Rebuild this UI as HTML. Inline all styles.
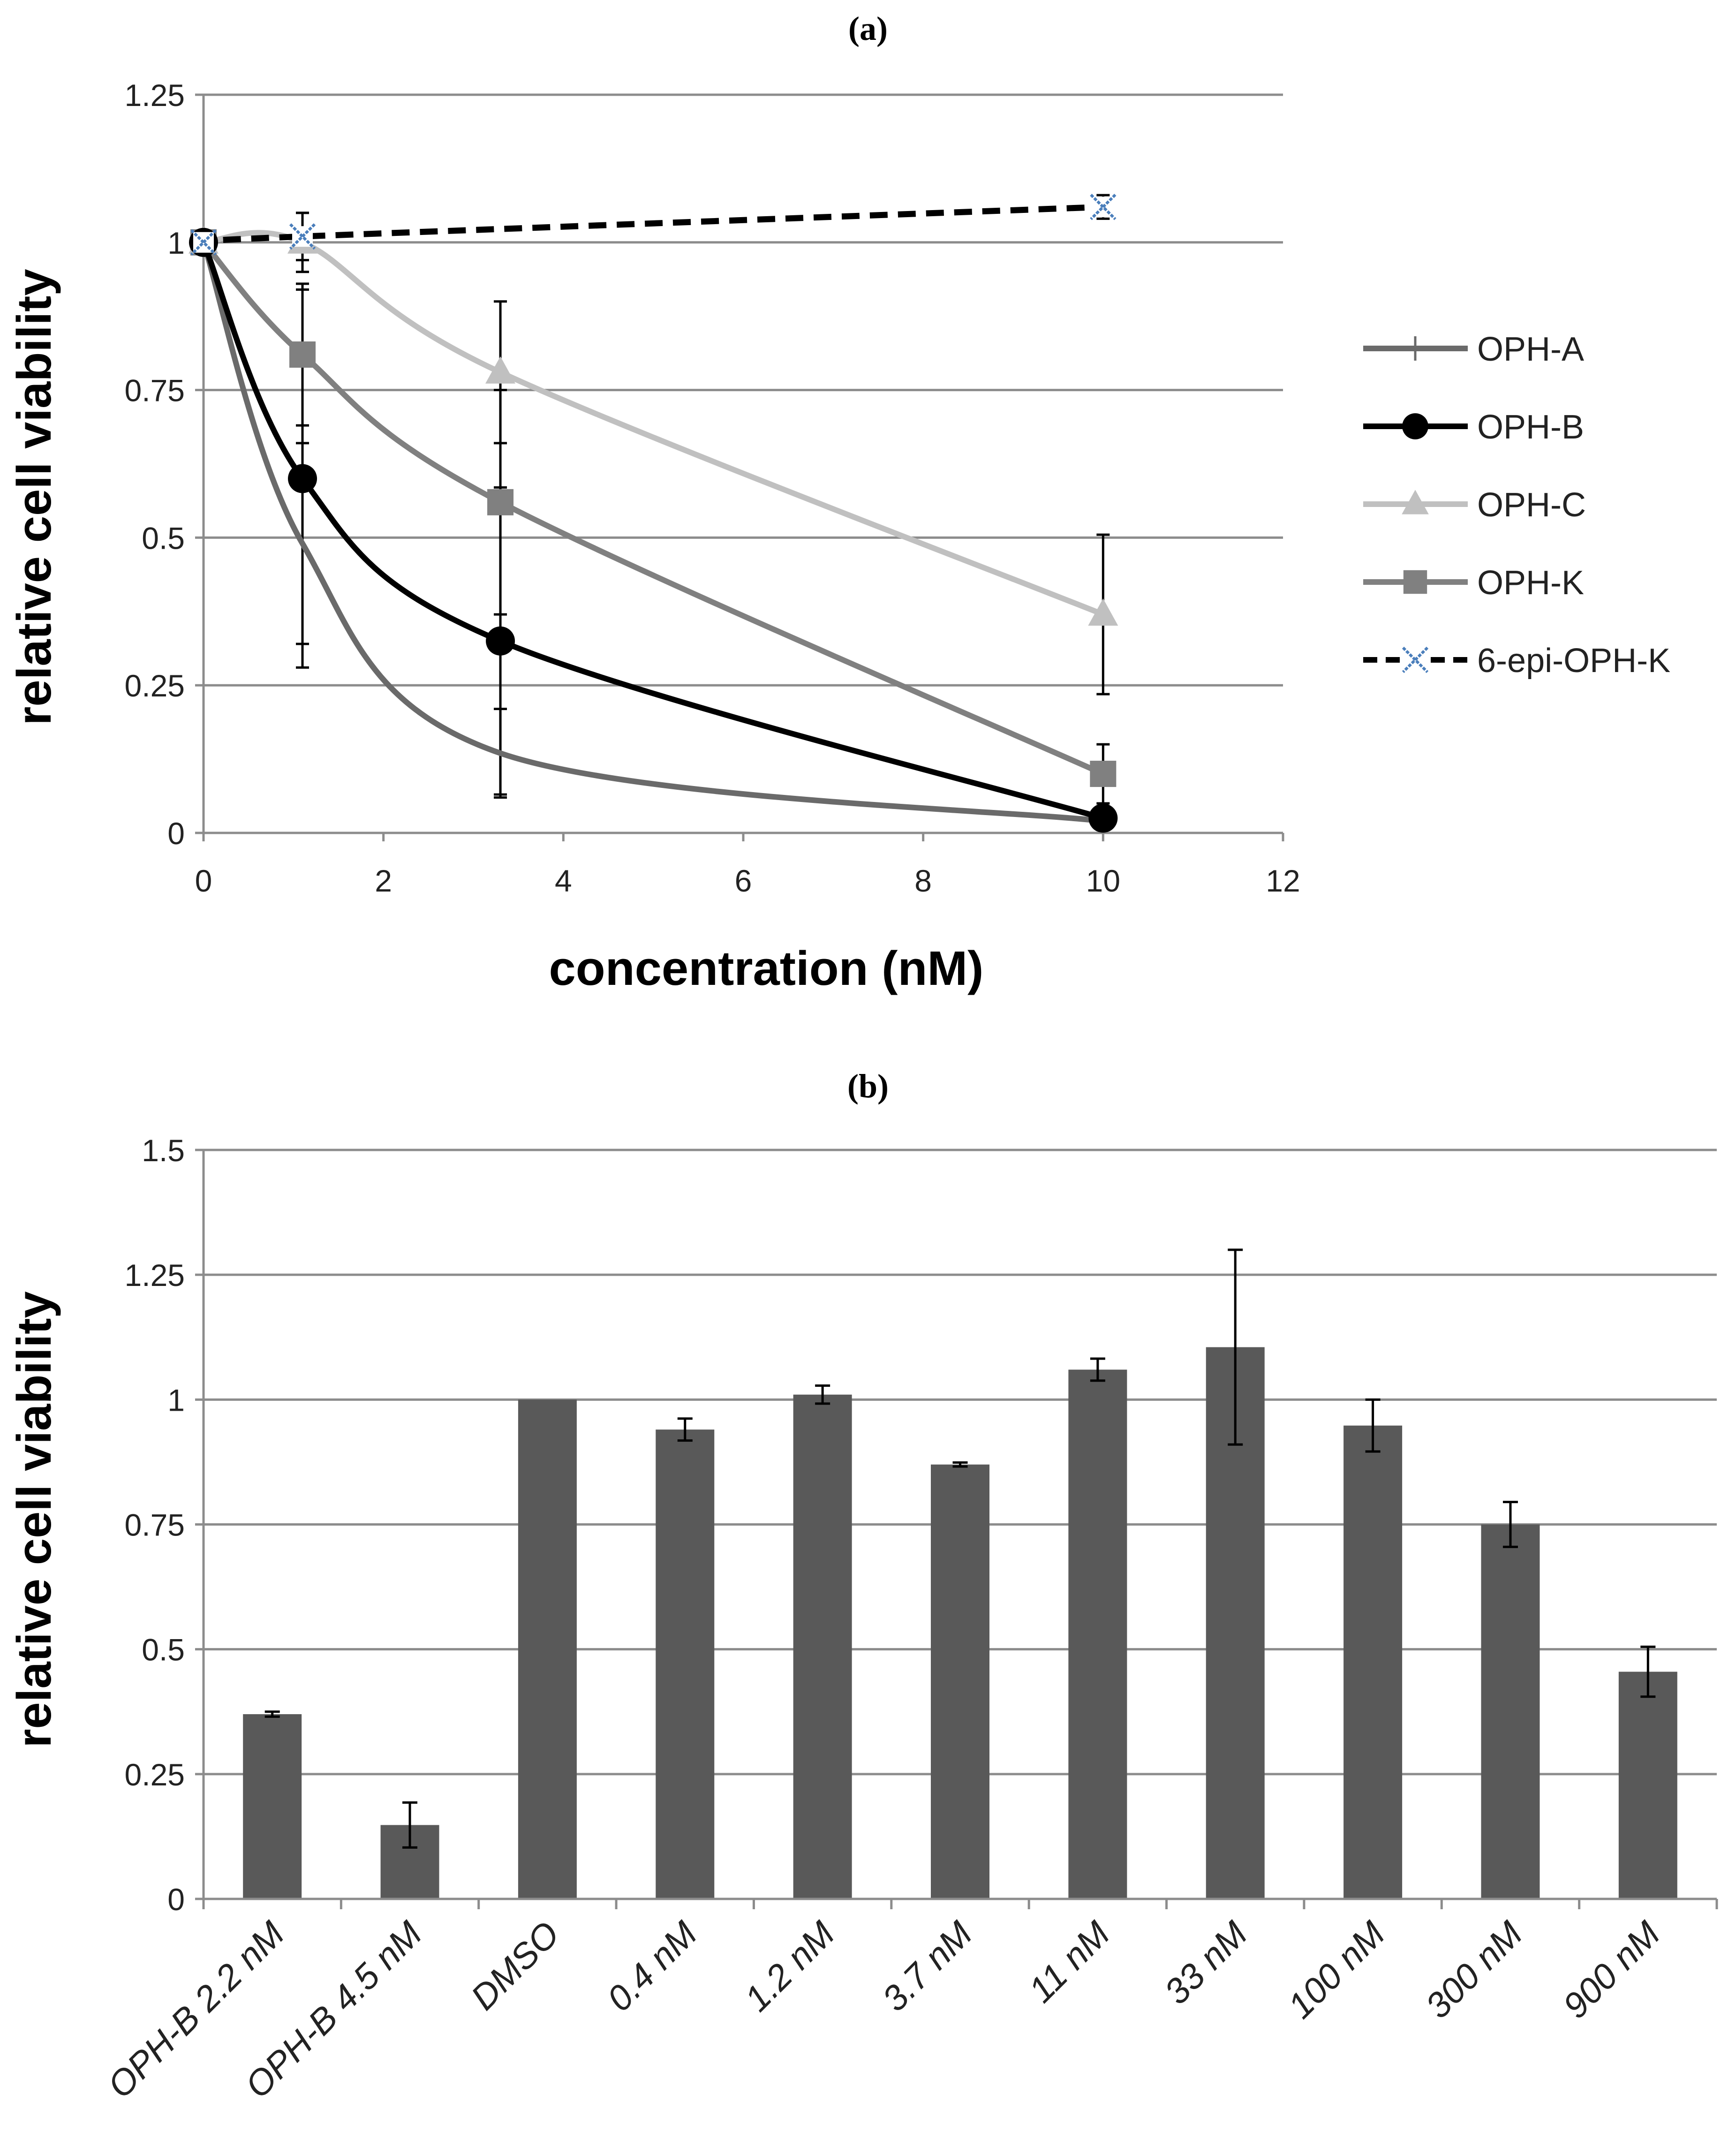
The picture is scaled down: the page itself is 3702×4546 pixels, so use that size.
<!DOCTYPE html>
<html><head><meta charset="utf-8"><style>
html,body{margin:0;padding:0;background:#fff}
svg{display:block}
text{font-family:"Liberation Sans",sans-serif}
text.serif{font-family:"Liberation Serif",serif}
</style></head><body>
<svg id="fig" xmlns="http://www.w3.org/2000/svg" width="3702" height="4546" viewBox="0 0 3702 4546">
<rect width="3702" height="4546" fill="#fff"/>
<g id="pa"></g>
<g id="pb"></g>
</svg>
<script>
// Panel A data
const aX = [0, 1.1, 3.3, 10];
const aA = [1, 0.49, 0.135, 0.02];
const aAerr = [0, 0.17, 0.075, 0.01];
const aB = [1, 0.6, 0.325, 0.025];
const aBerr = [0, 0.32, 0.26, 0.02];
const aC = [1, 1.0, 0.78, 0.37];
const aCerr = [0, 0.05, 0.12, 0.135];
const aK = [1, 0.81, 0.56, 0.1];
const aKerr = [0, 0.12, 0.19, 0.05];
const epiX = [0, 1.1, 10];
const epiY = [1, 1.01, 1.06];
const epiErr = [0, 0.04, 0.02];
const aXTicks = [0, 2, 4, 6, 8, 10, 12];
const aYTicks = [0, 0.25, 0.5, 0.75, 1, 1.25];
const aYLabels = ["0", "0.25", "0.5", "0.75", "1", "1.25"];
// Panel B data
const bCats = ["OPH-B 2.2 nM","OPH-B 4.5 nM","DMSO","0.4 nM","1.2 nM","3.7 nM","11 nM","33 nM","100 nM","300 nM","900 nM"];
const bVals = [0.37, 0.148, 1.0, 0.94, 1.01, 0.87, 1.06, 1.105, 0.948, 0.75, 0.455];
const bErr = [0.005, 0.045, 0, 0.022, 0.018, 0.004, 0.022, 0.195, 0.052, 0.045, 0.05];
const bYTicks = [0, 0.25, 0.5, 0.75, 1, 1.25, 1.5];
const bYLabels = ["0", "0.25", "0.5", "0.75", "1", "1.25", "1.5"];

const NS = "http://www.w3.org/2000/svg";
function mk(parent, tag, attrs, txt) {
  const e = document.createElementNS(NS, tag);
  for (const k in attrs) e.setAttribute(k, attrs[k]);
  if (txt !== undefined) e.textContent = txt;
  parent.appendChild(e);
  return e;
}
const pa = document.getElementById('pa');
const pb = document.getElementById('pb');

// ----- Panel A axes
const ax0 = 434, ax1 = 2736, ay0 = 1776, ay1 = 202;
const xA = v => ax0 + (v / 12) * (ax1 - ax0);
const yA = v => ay0 - (v / 1.25) * (ay0 - ay1);

let t = mk(pa, 'text', {class: 'serif', x: 1851, y: 85, 'font-size': 72, 'font-weight': 'bold', 'text-anchor': 'middle'}, '(a)');



aYTicks.forEach((v, i) => {
  const g = mk(pa, 'line', {x1: ax0 - 18, x2: ax1, y1: yA(v), y2: yA(v), stroke: '#8c8c8c', 'stroke-width': 5});
  
  
  const l = mk(pa, 'text', {x: ax0 - 40, y: yA(v) + 24, 'font-size': 66, 'text-anchor': 'end', fill: '#222'}, aYLabels[i]);
  
  
});
let ya = mk(pa, 'line', {x1: ax0, x2: ax0, y1: ay1, y2: ay0 + 18, stroke: '#8c8c8c', 'stroke-width': 5});


aXTicks.forEach(v => {
  const tk = mk(pa, 'line', {x1: xA(v), x2: xA(v), y1: ay0, y2: ay0 + 18, stroke: '#8c8c8c', 'stroke-width': 5});
  
  
  const l = mk(pa, 'text', {x: xA(v), y: ay0 + 125, 'font-size': 66, 'text-anchor': 'middle', fill: '#222'}, String(v));
  
  
});
t = mk(pa, 'text', {x: 1634, y: 2100, 'font-size': 103, 'font-weight': 'bold', 'text-anchor': 'middle'}, 'concentration (nM)');


t = mk(pa, 'text', {x: 0, y: 0, 'font-size': 103, 'font-weight': 'bold', 'text-anchor': 'middle', transform: 'translate(108,1060) rotate(-90)'}, 'relative cell viability');



function smooth(pts) {
  let d = `M${pts[0][0]},${pts[0][1]}`;
  for (let i = 0; i < pts.length - 1; i++) {
    const p0 = pts[i - 1] || pts[i], p1 = pts[i], p2 = pts[i + 1], p3 = pts[i + 2] || p2;
    const s = 6;
    const c1 = [p1[0] + (p2[0] - p0[0]) / s, p1[1] + (p2[1] - p0[1]) / s];
    const c2 = [p2[0] - (p3[0] - p1[0]) / s, p2[1] - (p3[1] - p1[1]) / s];
    d += ` C${c1[0]},${c1[1]} ${c2[0]},${c2[1]} ${p2[0]},${p2[1]}`;
  }
  return d;
}
function errBars(xs, ys, es, name) {
  xs.forEach((x, i) => {
    if (!es[i]) return;
    const X = xA(x), Y1 = yA(ys[i] + es[i]), Y2 = yA(ys[i] - es[i]);
    const e = mk(pa, 'path', {d: `M${X},${Y1}V${Y2}M${X-14},${Y1}H${X+14}M${X-14},${Y2}H${X+14}`, stroke: '#000', 'stroke-width': 5, fill: 'none'});
    
    
  });
}
const series = [
  {ys: aA, es: aAerr, col: '#6a6a6a', name: 'oph-a'},
  {ys: aK, es: aKerr, col: '#808080', name: 'oph-k'},
  {ys: aC, es: aCerr, col: '#c0c0c0', name: 'oph-c'},
  {ys: aB, es: aBerr, col: '#000000', name: 'oph-b'},
];
series.forEach(s => errBars(aX, s.ys, s.es, s.name + '-error-bar'));
errBars(epiX, epiY, epiErr, 'epi-oph-k-error-bar');
function marker(g, kind, X, Y, col, scale) {
  scale = scale || 1;
  let m;
  if (kind === 'circle') m = mk(g, 'circle', {cx: X, cy: Y, r: 31 * scale, fill: col});
  else if (kind === 'tri') m = mk(g, 'path', {d: `M${X},${Y-34*scale}L${X+32*scale},${Y+24*scale}L${X-32*scale},${Y+24*scale}Z`, fill: col});
  else if (kind === 'sq') m = mk(g, 'rect', {x: X - 28*scale, y: Y - 28*scale, width: 56*scale, height: 56*scale, fill: col});
  else if (kind === 'x') m = mk(g, 'path', {d: `M${X-26},${Y-26}L${X+26},${Y+26}M${X+26},${Y-26}L${X-26},${Y+26}`, stroke: '#4a7ebb', 'stroke-width': 6, 'stroke-dasharray': '7 3', fill: 'none'});
  else if (kind === 'plus') m = mk(g, 'path', {d: `M${X},${Y-26}V${Y+26}`, stroke: col, 'stroke-width': 5});
  return m;
}
const kinds = {'oph-a': 'plus', 'oph-b': 'circle', 'oph-c': 'tri', 'oph-k': 'sq'};
series.forEach(s => {
  const pts = aX.map((x, i) => [xA(x), yA(s.ys[i])]);
  const p = mk(pa, 'path', {d: smooth(pts), stroke: s.col, 'stroke-width': 12, fill: 'none', 'stroke-linecap': 'round'});
  
  
  if (s.name !== 'oph-a') aX.forEach((x, i) => {
    const m = marker(pa, kinds[s.name], xA(x), yA(s.ys[i]), s.col);
    
    
  });
});
const epiPts = epiX.map((x, i) => [xA(x), yA(epiY[i])]);
let ep = mk(pa, 'path', {d: smooth(epiPts), stroke: '#000', 'stroke-width': 13, fill: 'none', 'stroke-dasharray': '38 22'});


epiX.forEach((x, i) => {
  const bg = mk(pa, 'rect', {x: xA(x) - 22, y: yA(epiY[i]) - 22, width: 44, height: 44, fill: '#fff'});
  
  
  const m = marker(pa, 'x', xA(x), yA(epiY[i]));
  
  
});
// legend
const legNames = ['OPH-A', 'OPH-B', 'OPH-C', 'OPH-K', '6-epi-OPH-K'];
const legCols = ['#6a6a6a', '#000', '#c0c0c0', '#808080', '#000'];
const legKinds = ['plus', 'circle', 'tri', 'sq', 'x'];
legNames.forEach((n, i) => {
  const Y = 743 + i * 166;
  const g = mk(pa, 'g', {});
  
  
  mk(g, 'line', {x1: 2907, x2: 3130, y1: Y, y2: Y, stroke: legCols[i], 'stroke-width': 12, 'stroke-dasharray': i === 4 ? '30 18' : 'none'});
  if (i === 4) mk(g, 'rect', {x: 2996, y: Y - 22, width: 44, height: 44, fill: '#fff'});
  marker(g, legKinds[i], 3018, Y, legCols[i], 0.9);
  mk(g, 'text', {x: 3150, y: Y + 26, 'font-size': 72, fill: '#222'}, n);
});

// ----- Panel B
const bx0 = 434, bx1 = 3661, by0 = 4049, by1 = 2452;
const yB = v => by0 - (v / 1.5) * (by0 - by1);
const cw = (bx1 - bx0) / bCats.length;
t = mk(pb, 'text', {class: 'serif', x: 1851, y: 2340, 'font-size': 72, 'font-weight': 'bold', 'text-anchor': 'middle'}, '(b)');


bYTicks.forEach((v, i) => {
  const g = mk(pb, 'line', {x1: bx0 - 18, x2: bx1, y1: yB(v), y2: yB(v), stroke: '#8c8c8c', 'stroke-width': 5});
  
  
  const l = mk(pb, 'text', {x: bx0 - 40, y: yB(v) + 24, 'font-size': 66, 'text-anchor': 'end', fill: '#222'}, bYLabels[i]);
  
  
});
let yb = mk(pb, 'line', {x1: bx0, x2: bx0, y1: by1, y2: by0, stroke: '#8c8c8c', 'stroke-width': 5});


t = mk(pb, 'text', {x: 0, y: 0, 'font-size': 103, 'font-weight': 'bold', 'text-anchor': 'middle', transform: 'translate(108,3240) rotate(-90)'}, 'relative cell viability');


for (let i = 0; i <= bCats.length; i++) {
  const tk = mk(pb, 'line', {x1: bx0 + i * cw, x2: bx0 + i * cw, y1: by0, y2: by0 + 22, stroke: '#8c8c8c', 'stroke-width': 5});
  
  
}
bCats.forEach((c, i) => {
  const cx = bx0 + (i + 0.5) * cw, bw = 125;
  const r = mk(pb, 'rect', {x: cx - bw / 2, y: yB(bVals[i]), width: bw, height: by0 - yB(bVals[i]), fill: '#595959'});
  
  
  if (bErr[i]) {
    const Y1 = yB(bVals[i] + bErr[i]), Y2 = yB(bVals[i] - bErr[i]);
    const e = mk(pb, 'path', {d: `M${cx},${Y1}V${Y2}M${cx-16},${Y1}H${cx+16}M${cx-16},${Y2}H${cx+16}`, stroke: '#000', 'stroke-width': 5, fill: 'none'});
    
    
  }
  const l = mk(pb, 'text', {x: 0, y: 0, 'font-size': 76, 'font-style': 'italic', 'text-anchor': 'end', fill: '#222', transform: `translate(${cx + 30},${by0 + 80}) rotate(-45)`}, c);
  
  
});
let xb = mk(pb, 'line', {x1: bx0, x2: bx1, y1: by0, y2: by0, stroke: '#8c8c8c', 'stroke-width': 5});


</script>
</body></html>
